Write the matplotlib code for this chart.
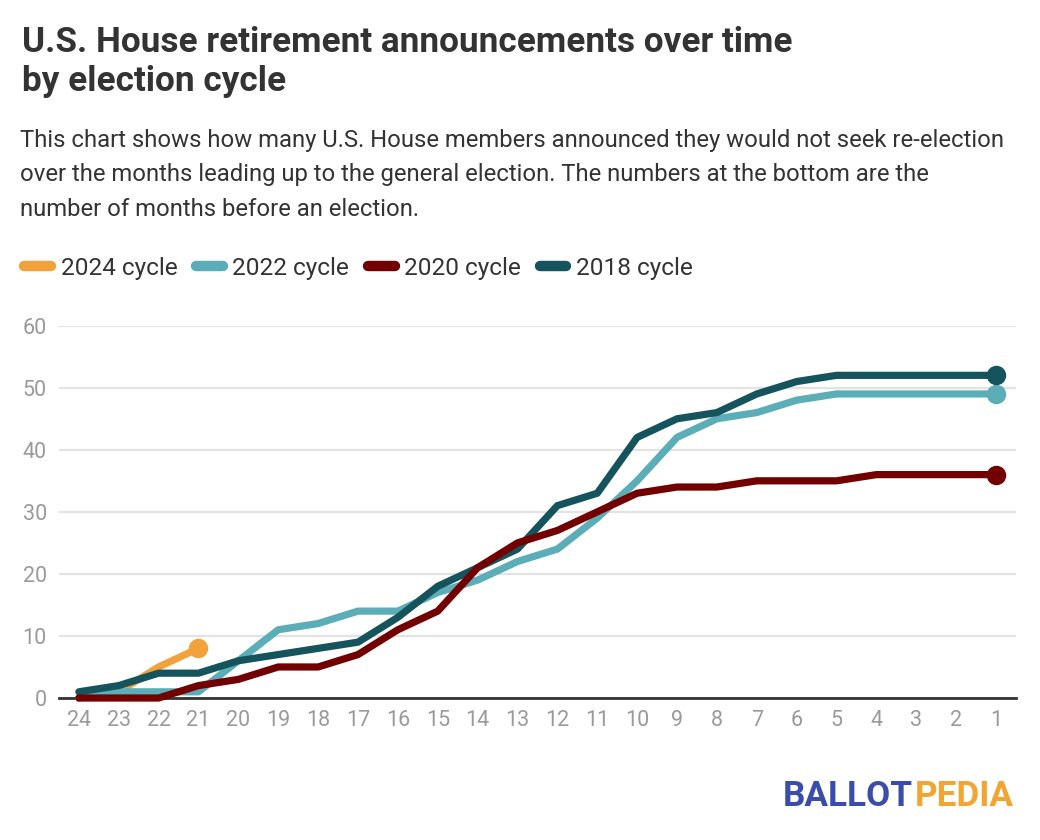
import matplotlib
matplotlib.use("Agg")
import matplotlib.pyplot as plt
from matplotlib.lines import Line2D

plt.rcParams['font.family'] = ['Roboto', 'DejaVu Sans']

months = [24, 23, 22, 21, 20, 19, 18, 17, 16, 15, 14, 13, 12, 11, 10, 9, 8, 7, 6, 5, 4, 3, 2, 1]
months_2024 = [24, 23, 22, 21]
cycle_2024 = [0, 1, 5, 8]
cycle_2022 = [0, 1, 1, 1, 6, 11, 12, 14, 14, 17, 19, 22, 24, 29, 35, 42, 45, 46, 48, 49, 49, 49, 49, 49]
cycle_2020 = [0, 0, 0, 2, 3, 5, 5, 7, 11, 14, 21, 25, 27, 30, 33, 34, 34, 35, 35, 35, 36, 36, 36, 36]
cycle_2018 = [1, 2, 4, 4, 6, 7, 8, 9, 13, 18, 21, 24, 31, 33, 42, 45, 46, 49, 51, 52, 52, 52, 52, 52]
y_ticks = [0, 10, 20, 30, 40, 50, 60]

c2024 = '#F2A23A'
c2022 = '#5BADB8'
c2020 = '#730000'
c2018 = '#15545C'

fig = plt.figure(figsize=(10.4, 8.4), dpi=100)
ax = fig.add_axes([59.3 / 1040, 1 - 698 / 840, (1016 - 59.3) / 1040, (698 - 325.7) / 840])

lw = 5.2
ms = 13
series = [
    ('2024 cycle', months_2024, cycle_2024, c2024, 1.8),
    ('2022 cycle', months, cycle_2022, c2022, 2),
    ('2020 cycle', months, cycle_2020, c2020, 4),
    ('2018 cycle', months, cycle_2018, c2018, 3),
]
handles = []
for label, xs, ys, col, z in series:
    ax.plot(xs, ys, color=col, lw=lw, zorder=z, solid_joinstyle='round',
            solid_capstyle='round', clip_on=False)
    ax.plot([xs[-1]], [ys[-1]], 'o', color=col, ms=ms, zorder=5, clip_on=False)
    handles.append(Line2D([0], [0], color=col, lw=7.5, solid_capstyle='round', label=label))

ax.set_xlim(24.49, 0.5)
ax.set_ylim(0, 60)
ax.set_xticks(months)
ax.set_xticklabels([str(m) for m in months])
ax.set_yticks(y_ticks)
ax.set_yticklabels([str(v) for v in y_ticks])
ax.tick_params(axis='both', length=0, labelsize=15.5, labelcolor='#9a9a9a')
ax.tick_params(axis='x', pad=9)
ax.tick_params(axis='y', pad=9)
ax.grid(axis='y', color='#e3e3e3', lw=1.6, zorder=0)
ax.set_axisbelow(True)
for s in ['top', 'right', 'left']:
    ax.spines[s].set_visible(False)
ax.spines['bottom'].set_color('#333333')
ax.spines['bottom'].set_linewidth(2)
ax.spines['bottom'].set_zorder(1.5)

fig.text(22 / 1040, 1 - 42 / 840, 'U.S. House retirement announcements over time',
         fontsize=25.3, fontweight='bold', color='#333333', va='center', ha='left')
fig.text(22 / 1040, 1 - 82 / 840, 'by election cycle',
         fontsize=25.3, fontweight='bold', color='#333333', va='center', ha='left')
sub = ['This chart shows how many U.S. House members announced they would not seek re-election',
       'over the months leading up to the general election. The numbers at the bottom are the',
       'number of months before an election.']
for i, line in enumerate(sub):
    fig.text(20 / 1040, 1 - (140 + i * 34.5) / 840, line, fontsize=17.2, color='#333333',
             va='center', ha='left')

leg = fig.legend(handles=handles, loc='center left', bbox_to_anchor=(24 / 1040, 1 - 268 / 840),
                 ncol=4, frameon=False, fontsize=17.6, handlelength=1.1, handletextpad=0.4,
                 columnspacing=0.75, labelcolor='#333333', borderaxespad=0, borderpad=0)

fig.canvas.draw()
r = fig.canvas.get_renderer()
t1 = fig.text(783 / 1040, 1 - 796 / 840, 'BALLOT', fontsize=25.3, fontweight='bold',
              color='#3A4DAB', ha='left', va='center')
bb = t1.get_window_extent(renderer=r)
fig.text((bb.x1 + 2) / 1040, 1 - 796 / 840, 'PEDIA', fontsize=25.3, fontweight='bold',
         color='#F2A531', ha='left', va='center')

fig.savefig('out.png', dpi=100, facecolor='white')
